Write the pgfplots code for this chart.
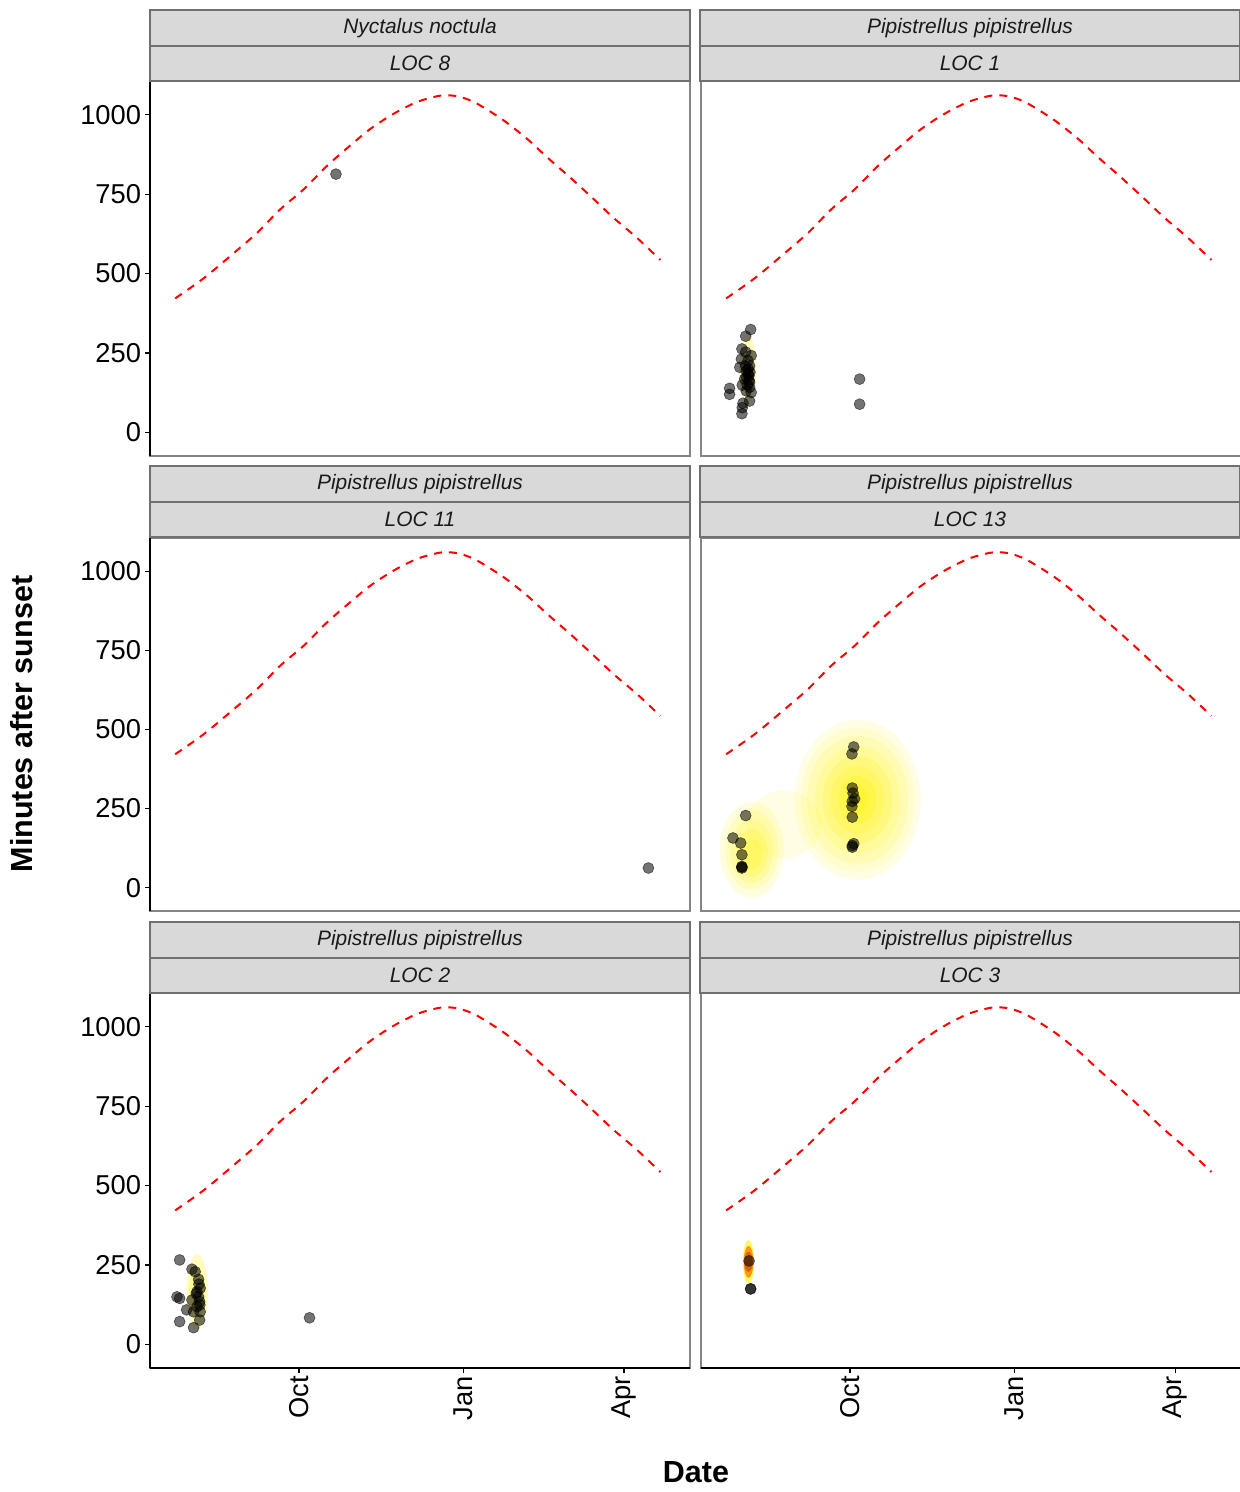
\documentclass[border=0pt]{standalone}
\usepackage{fontspec}
\setmainfont{Liberation Sans}
\usepackage{pgfplots}
\pgfplotsset{compat=1.18}
\usepackage{pgfplotstable}

\definecolor{stripfill}{HTML}{D9D9D9}
\definecolor{stripline}{HTML}{707070}
\definecolor{framegray}{HTML}{858585}
\definecolor{striptext}{HTML}{1A1A1A}
\definecolor{dorange}{HTML}{C85A00}

\pgfplotstableread{
x y
-161.3 422
-145.4 485
-128.6 564
-115.5 628
-102.5 702
-89.4 765
-76.3 839
-63.3 903
-52.1 955
-39.0 1003
-25.9 1040
-14.7 1058
-9.1 1061
-3.5 1058
3.0 1047
9.5 1029
22.6 982
35.7 924
46.9 866
59.9 802
72.1 739
84.2 675
97.3 612
110.3 543
}\curve

\pgfplotstableread{
x y
-71.3 813
}\locVIII

\pgfplotstableread{
x y
-147.6 324
-150.4 303
-152.5 263
-152.8 231
-153.7 205
-149.1 226
-148.2 210
-150.1 194
-148.6 178
-151.0 168
-148.2 158
-152.3 149
-148.2 142
-150.1 131
-147.3 126
-159.4 139
-159.4 120
-148.2 99
-151.9 92
-152.3 78
-152.5 59
-150.4 253
-147.3 242
-149.0 185
-150.0 175
-148.5 165
-149.5 150
-148.0 190
-150.5 210
-149.0 200
-86.6 168
-86.6 89
}\locI

\pgfplotstableread{
x y
103.6 62
}\locXI

\pgfplotstableread{
x y
-89.9 445
-90.9 423
-90.7 315
-90.3 299
-89.4 281
-90.7 273
-90.9 257
-90.7 223
-89.9 139
-90.7 128
-90.7 133
-150.4 228
-157.5 157
-153.2 141
-152.5 104
-152.5 67
-152.5 62
-152.5 65
}\locXIII

\pgfplotstableread{
x y
-158.8 266
-151.9 237
-150.1 229
-148.2 205
-147.3 177
-160.3 150
-158.8 145
-148.2 150
-151.9 140
-147.6 135
-154.9 109
-151.0 103
-147.3 103
-147.6 77
-158.8 72
-151.0 53
-149.1 166
-149.1 119
-148.0 190
-149.5 160
-147.5 125
-86.1 84
}\locII

\pgfplotstableread{
x y
-148.5 263
-147.6 175
-147.6 175
}\locIII

\pgfplotsset{
  panel/.style={scale only axis, width=270bp,
    xmin=-175.4, xmax=126.9, ymin=-74, ymax=1106, clip=false,
    axis line style={framegray, line width=0.9bp},
    tick align=outside, tick pos=left, major tick length=2.3bp,
    tick style={black, line width=0.6bp},
    xtick={-92,0,90}, xticklabels={Oct,Jan,Apr},
    ytick={0,250,500,750,1000},
    /pgf/number format/1000 sep={},
    /pgf/number format/assume math mode=true,
    ticklabel style={font=\fontsize{13.7}{15}\selectfont, text=black},
    yticklabel style={inner sep=2bp},
    xticklabel style={rotate=90, anchor=east, inner sep=1.5bp},
  },
  noxt/.style={xtick=\empty},
  noyt/.style={ytick=\empty},
  pts/.style={only marks, mark=*, mark size=2.75bp,
    mark options={fill=black, fill opacity=0.55, draw=black, draw opacity=0.55, line width=0.3bp}},
  night/.style={red, line width=1bp, dash pattern=on 4bp off 3.5bp, smooth},
}

% blob: x, y, size, xscale, colour, opacity
\newcommand{\blob}[6]{\addplot[only marks, color=#5, mark=*, mark size=#3,
  mark options={xscale=#4, fill=#5, draw=#5, draw opacity=0, fill opacity=#6}] coordinates {(#1,#2)};}

\newcommand{\strips}[4]{% x0, ytop, top text, bottom text
  \draw[fill=stripfill, draw=stripline, line width=1bp] (#1,#2) rectangle ++(270bp,-17.75bp);
  \draw[fill=stripfill, draw=stripline, line width=1bp] (#1,#2-17.75bp) rectangle ++(270bp,-17.75bp);
  \node[font=\itshape\fontsize{10.5}{12}\selectfont, text=striptext] at ([xshift=135bp, yshift=-8.9bp]#1,#2) {#3};
  \node[font=\itshape\fontsize{10.5}{12}\selectfont, text=striptext] at ([xshift=135bp, yshift=-26.6bp]#1,#2) {#4};
}

\begin{document}
\begin{tikzpicture}
\useasboundingbox (0,0) rectangle (620bp,-746bp);

% ---------- Row 1 ----------
\begin{axis}[panel, noxt, height=187.5bp, at={(75bp,-228bp)}, anchor=south west]
  \addplot[night] table {\curve};
  \addplot[pts] table {\locVIII};
  \draw[black, line width=1bp] (rel axis cs:0,0) -- (rel axis cs:0,1);
\end{axis}
\begin{axis}[panel, noxt, noyt, height=187.5bp, at={(350.5bp,-228bp)}, anchor=south west]
  \blob{-149.2}{200}{17bp}{0.25}{yellow}{0.25}
  \addplot[night] table {\curve};
  \addplot[pts] table {\locI};
\end{axis}

% ---------- Row 2 ----------
\begin{axis}[panel, noxt, height=186.5bp, at={(75bp,-455.5bp)}, anchor=south west]
  \addplot[night] table {\curve};
  \addplot[pts] table {\locXI};
  \draw[black, line width=1bp] (rel axis cs:0,0) -- (rel axis cs:0,1);
\end{axis}
\begin{axis}[panel, noxt, noyt, height=186.5bp, at={(350.5bp,-455.5bp)}, anchor=south west]
  % right density blob
  \blob{-87.7}{278}{40bp}{0.79}{yellow}{0.10}
  \blob{-87.7}{278}{36bp}{0.79}{yellow}{0.10}
  \blob{-87.7}{278}{32bp}{0.79}{yellow}{0.12}
  \blob{-87.7}{278}{27bp}{0.79}{yellow}{0.15}
  \blob{-87.7}{278}{22bp}{0.79}{yellow}{0.18}
  \blob{-87.7}{278}{17bp}{0.79}{yellow}{0.2}
  \blob{-87.7}{278}{12bp}{0.79}{yellow}{0.25}
  \blob{-87.7}{278}{7bp}{0.79}{yellow}{0.3}
  % bridge
  \blob{-129}{200}{17bp}{1.1}{yellow}{0.10}
  % left density blob
  \blob{-147}{120}{24bp}{0.67}{yellow}{0.12}
  \blob{-147}{120}{20bp}{0.67}{yellow}{0.14}
  \blob{-147}{115}{16bp}{0.67}{yellow}{0.16}
  \blob{-147}{110}{12bp}{0.67}{yellow}{0.2}
  \blob{-147}{105}{8bp}{0.67}{yellow}{0.22}
  \addplot[night] table {\curve};
  \addplot[pts] table {\locXIII};
\end{axis}

% ---------- Row 3 ----------
\begin{axis}[panel, height=187.5bp, at={(75bp,-684bp)}, anchor=south west]
  \blob{-149}{165}{19bp}{0.28}{yellow}{0.25}
  \blob{-149}{165}{12bp}{0.35}{yellow}{0.25}
  \addplot[night] table {\curve};
  \addplot[pts] table {\locII};
  \draw[black, line width=1bp] (rel axis cs:0,0) -- (rel axis cs:0,1);
  \draw[black, line width=1bp] (rel axis cs:0,0) -- (rel axis cs:1,0);
\end{axis}
\begin{axis}[panel, noyt, height=187.5bp, at={(350.5bp,-684bp)}, anchor=south west]
  \blob{-148.8}{260}{11bp}{0.25}{yellow}{0.6}
  \blob{-148.8}{260}{8bp}{0.3}{orange}{0.8}
  \blob{-148.8}{260}{5bp}{0.42}{dorange}{0.8}
  \addplot[night] table {\curve};
  \addplot[pts] table {\locIII};
  \draw[black, line width=1bp] (rel axis cs:0,0) -- (rel axis cs:1,0);
\end{axis}

% ---------- Strips ----------
\strips{75bp}{-5bp}{Nyctalus noctula}{LOC 8}
\strips{350bp}{-5bp}{Pipistrellus pipistrellus}{LOC 1}
\strips{75bp}{-233bp}{Pipistrellus pipistrellus}{LOC 11}
\strips{350bp}{-233bp}{Pipistrellus pipistrellus}{LOC 13}
\strips{75bp}{-461bp}{Pipistrellus pipistrellus}{LOC 2}
\strips{350bp}{-461bp}{Pipistrellus pipistrellus}{LOC 3}

% ---------- Axis titles ----------
\node[rotate=90, font=\bfseries\fontsize{15.3}{17}\selectfont] at (11bp,-362bp) {Minutes after sunset};
\node[font=\bfseries\fontsize{15.3}{17}\selectfont] at (348bp,-736bp) {Date};
\end{tikzpicture}
\end{document}
